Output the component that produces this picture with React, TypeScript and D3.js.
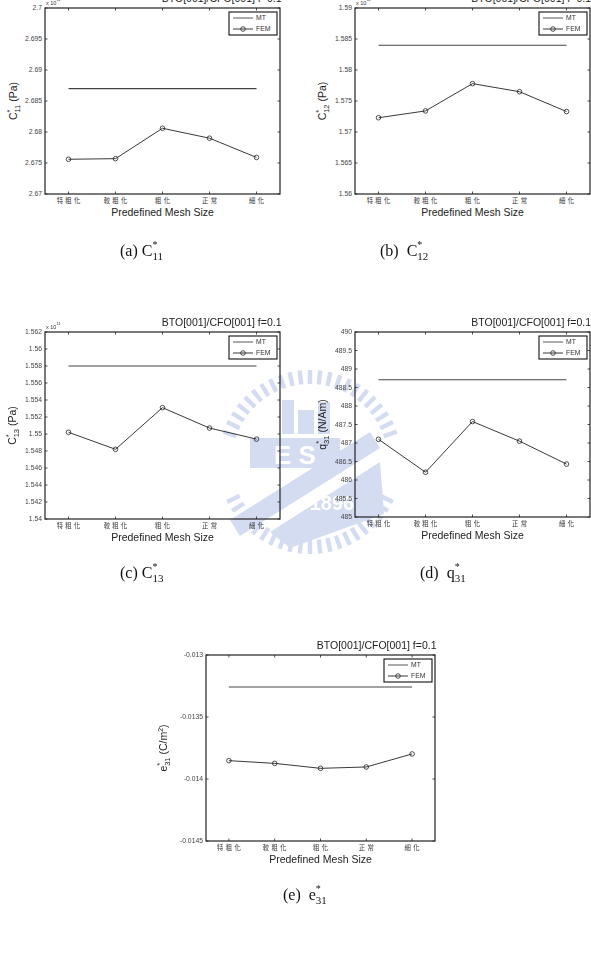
import React from "react";
import * as d3 from "d3";

// mesh refinement levels on the x axis
const categories = ["特粗化", "較粗化", "粗化", "正常", "細化"];
const seriesNames = ["MT", "FEM"];
const chartTitle = "BTO[001]/CFO[001] f=0.1";
const xTitle = "Predefined Mesh Size";

// C11* (x 10^11 Pa)
const c11Ticks = [2.67, 2.675, 2.68, 2.685, 2.69, 2.695, 2.7];
const c11Mt = 2.687;
const c11Fem = [2.6756, 2.6757, 2.6806, 2.679, 2.6759];

// C12* (x 10^11 Pa)
const c12Ticks = [1.56, 1.565, 1.57, 1.575, 1.58, 1.585, 1.59];
const c12Mt = 1.584;
const c12Fem = [1.5723, 1.5734, 1.5778, 1.5765, 1.5733];

// C13* (x 10^11 Pa)
const c13Ticks = [1.54, 1.542, 1.544, 1.546, 1.548, 1.55, 1.552, 1.554, 1.556, 1.558, 1.56, 1.562];
const c13Mt = 1.558;
const c13Fem = [1.5502, 1.5482, 1.5531, 1.5507, 1.5494];

// q31* (N/Am)
const q31Ticks = [485, 485.5, 486, 486.5, 487, 487.5, 488, 488.5, 489, 489.5, 490];
const q31Mt = 488.71;
const q31Fem = [487.1, 486.21, 487.58, 487.05, 486.43];

// e31* (C/m^2)
const e31Ticks = [-0.0145, -0.014, -0.0135, -0.013];
const e31Mt = -0.013258;
const e31Fem = [-0.013852, -0.013874, -0.013914, -0.013903, -0.013798];

const SANS = "'Liberation Sans', Arial, sans-serif";
const SERIF = "'Liberation Serif', 'Times New Roman', serif";
const CJK = "'Noto Sans CJK TC', 'Noto Sans CJK SC', sans-serif";

type Box = { left: number; top: number; width: number; height: number };

function YLabel({ x, y, letter, sub, unit, unitSup }) {
  return (
    <text
      transform={`translate(${x},${y}) rotate(-90)`}
      textAnchor="middle"
      fontFamily={SANS}
      fontSize={10.5}
      fill="#222"
    >
      <tspan>{letter}</tspan>
      <tspan fontSize={7.5} dy={-5}>*</tspan>
      <tspan fontSize={7.5} dx={-3} dy={8}>{sub}</tspan>
      <tspan dy={-3}>{" (" + unit}</tspan>
      {unitSup && (
        <tspan fontSize={7} dy={-4}>{unitSup}</tspan>
      )}
      <tspan dy={unitSup ? 4 : 0}>)</tspan>
    </text>
  );
}

function Caption({ x, y, tag, letter, sub }) {
  return (
    <text x={x} y={y} fontFamily={SERIF} fontSize={16} fill="#111" style={{ whiteSpace: "pre" }}>
      <tspan>{tag + letter}</tspan>
      <tspan fontSize={10} dy={-8}>*</tspan>
      <tspan fontSize={11} dx={-5} dy={12}>{sub}</tspan>
    </text>
  );
}

function Panel({ box, ticks, mt, fem, exponent, label, labelGap }) {
  const { left, top, width, height } = box as Box;
  const right = left + width;
  const bottom = top + height;

  const x = d3.scalePoint<string>().domain(categories).range([left, right]).padding(0.5);
  const y = d3.scaleLinear().domain(d3.extent(ticks) as [number, number]).range([bottom, top]);

  const femLine = d3
    .line<number>()
    .x((_, i) => x(categories[i]) as number)
    .y(d => y(d));

  const x0 = x(categories[0]) as number;
  const x1 = x(categories[categories.length - 1]) as number;
  const tl = 2.5;

  // legend box in the upper right corner
  const lw = 48;
  const lh = 23;
  const lx = right - 3 - lw;
  const ly = top + 4;

  return (
    <g>
      {/* MT reference value */}
      <line x1={x0} x2={x1} y1={y(mt)} y2={y(mt)} stroke="#444" strokeWidth={1.1} />
      {/* FEM results */}
      <path d={femLine(fem) as string} fill="none" stroke="#222" strokeWidth={0.9} />
      {fem.map((v, i) => (
        <circle
          key={i}
          cx={x(categories[i])}
          cy={y(v)}
          r={2.3}
          fill="none"
          stroke="#222"
          strokeWidth={0.8}
        />
      ))}

      {/* axes box with inward ticks */}
      <rect x={left} y={top} width={width} height={height} fill="none" stroke="#222" strokeWidth={1.2} />
      {ticks.map(t => (
        <g key={t}>
          <line x1={left} x2={left + tl} y1={y(t)} y2={y(t)} stroke="#222" strokeWidth={0.8} />
          <line x1={right} x2={right - tl} y1={y(t)} y2={y(t)} stroke="#222" strokeWidth={0.8} />
          <text
            x={left - 3}
            y={y(t)}
            dy="0.35em"
            textAnchor="end"
            fontFamily={SANS}
            fontSize={6.8}
            fill="#444"
          >
            {String(t)}
          </text>
        </g>
      ))}
      {categories.map(c => (
        <g key={c}>
          <line x1={x(c)} x2={x(c)} y1={bottom} y2={bottom - tl} stroke="#222" strokeWidth={0.8} />
          <line x1={x(c)} x2={x(c)} y1={top} y2={top + tl} stroke="#222" strokeWidth={0.8} />
          <text
            x={(x(c) as number) + 1.2}
            y={bottom + 8.5}
            textAnchor="middle"
            fontFamily={CJK}
            fontSize={6.3}
            letterSpacing={2.4}
            fill="#333"
          >
            {c}
          </text>
        </g>
      ))}

      {exponent && (
        <text x={left + 1} y={top - 3} fontFamily={SANS} fontSize={5.5} fill="#333">
          x 10
          <tspan fontSize={4} dy={-4}>{exponent}</tspan>
        </text>
      )}

      <text
        x={Math.min(right + 1.5, 591)}
        y={top - 6}
        textAnchor="end"
        fontFamily={SANS}
        fontSize={10.5}
        fill="#222"
      >
        {chartTitle}
      </text>

      <text
        x={(left + right) / 2}
        y={bottom + 22}
        textAnchor="middle"
        fontFamily={SANS}
        fontSize={10.5}
        fill="#222"
      >
        {xTitle}
      </text>

      <YLabel x={left - labelGap} y={(top + bottom) / 2} {...label} />

      {/* legend */}
      <rect x={lx} y={ly} width={lw} height={lh} fill="#fff" stroke="#111" strokeWidth={1.1} />
      {seriesNames.map((name, i) => {
        const ry = ly + 6 + i * 11;
        return (
          <g key={name}>
            <line
              x1={lx + 4}
              x2={lx + 24}
              y1={ry}
              y2={ry}
              stroke={i === 0 ? "#444" : "#222"}
              strokeWidth={0.9}
            />
            {i === 1 && (
              <circle cx={lx + 14} cy={ry} r={2.3} fill="none" stroke="#222" strokeWidth={0.8} />
            )}
            <text x={lx + 27} y={ry} dy="0.35em" fontFamily={SANS} fontSize={6.8} fill="#333">
              {name}
            </text>
          </g>
        );
      })}
    </g>
  );
}

// faint university emblem behind the middle row
function Emblem() {
  const cx = 310;
  const cy = 462;
  const col = "#9fb0e2";
  const teeth = d3
    .range(56)
    .map(i => (i * 360) / 56)
    .filter(a => (a > 198 && a < 342) || (a > 22 && a < 158));
  return (
    <g transform={`translate(${cx},${cy})`} opacity={0.45}>
      {teeth.map(a => (
        <rect key={a} x={78} y={-2.2} width={14} height={4.4} fill={col} transform={`rotate(${a})`} />
      ))}
      <rect x={-28} y={-62} width={12} height={34} fill={col} />
      <rect x={-12} y={-52} width={16} height={24} fill={col} />
      <rect x={8} y={-60} width={12} height={32} fill={col} />
      <rect x={-60} y={-24} width={90} height={30} fill={col} />
      <text x={-15} y={2} textAnchor="middle" fontFamily={SANS} fontWeight="bold" fontSize={26} fill="#fff">
        E S
      </text>
      <polygon points="-80,58 60,-30 70,-14 -70,74" fill={col} />
      <polygon points="-40,70 70,0 74,52 -20,86" fill={col} />
      <text x={22} y={48} textAnchor="middle" fontFamily={SANS} fontWeight="bold" fontSize={20} fill="#fff">
        1896
      </text>
    </g>
  );
}

export default function App() {
  return (
    <svg
      width={591}
      height={965}
      style={{ position: "absolute", left: 0, top: 0, background: "#fff" }}
    >
      <rect width={591} height={965} fill="#fff" />
      <Emblem />

      <Panel
        box={{ left: 45, top: 8, width: 235, height: 186 }}
        ticks={c11Ticks}
        mt={c11Mt}
        fem={c11Fem}
        exponent="11"
        labelGap={28.5}
        label={{ letter: "C", sub: "11", unit: "Pa" }}
      />
      <Panel
        box={{ left: 355, top: 8, width: 235, height: 186 }}
        ticks={c12Ticks}
        mt={c12Mt}
        fem={c12Fem}
        exponent="11"
        labelGap={29}
        label={{ letter: "C", sub: "12", unit: "Pa" }}
      />
      <Panel
        box={{ left: 45, top: 332, width: 235, height: 187 }}
        ticks={c13Ticks}
        mt={c13Mt}
        fem={c13Fem}
        exponent="11"
        labelGap={29}
        label={{ letter: "C", sub: "13", unit: "Pa" }}
      />
      <Panel
        box={{ left: 355, top: 332, width: 235, height: 185 }}
        ticks={q31Ticks}
        mt={q31Mt}
        fem={q31Fem}
        exponent={null}
        labelGap={29}
        label={{ letter: "q", sub: "31", unit: "N/Am" }}
      />
      <Panel
        box={{ left: 206, top: 655, width: 229, height: 186 }}
        ticks={e31Ticks}
        mt={e31Mt}
        fem={e31Fem}
        exponent={null}
        labelGap={39}
        label={{ letter: "e", sub: "31", unit: "C/m", unitSup: "2" }}
      />

      <Caption x={120} y={256} tag="(a) " letter="C" sub="11" />
      <Caption x={380} y={256} tag="(b)  " letter="C" sub="12" />
      <Caption x={120} y={578} tag="(c) " letter="C" sub="13" />
      <Caption x={420} y={578} tag="(d)  " letter="q" sub="31" />
      <Caption x={283} y={900} tag="(e)  " letter="e" sub="31" />
    </svg>
  );
}
